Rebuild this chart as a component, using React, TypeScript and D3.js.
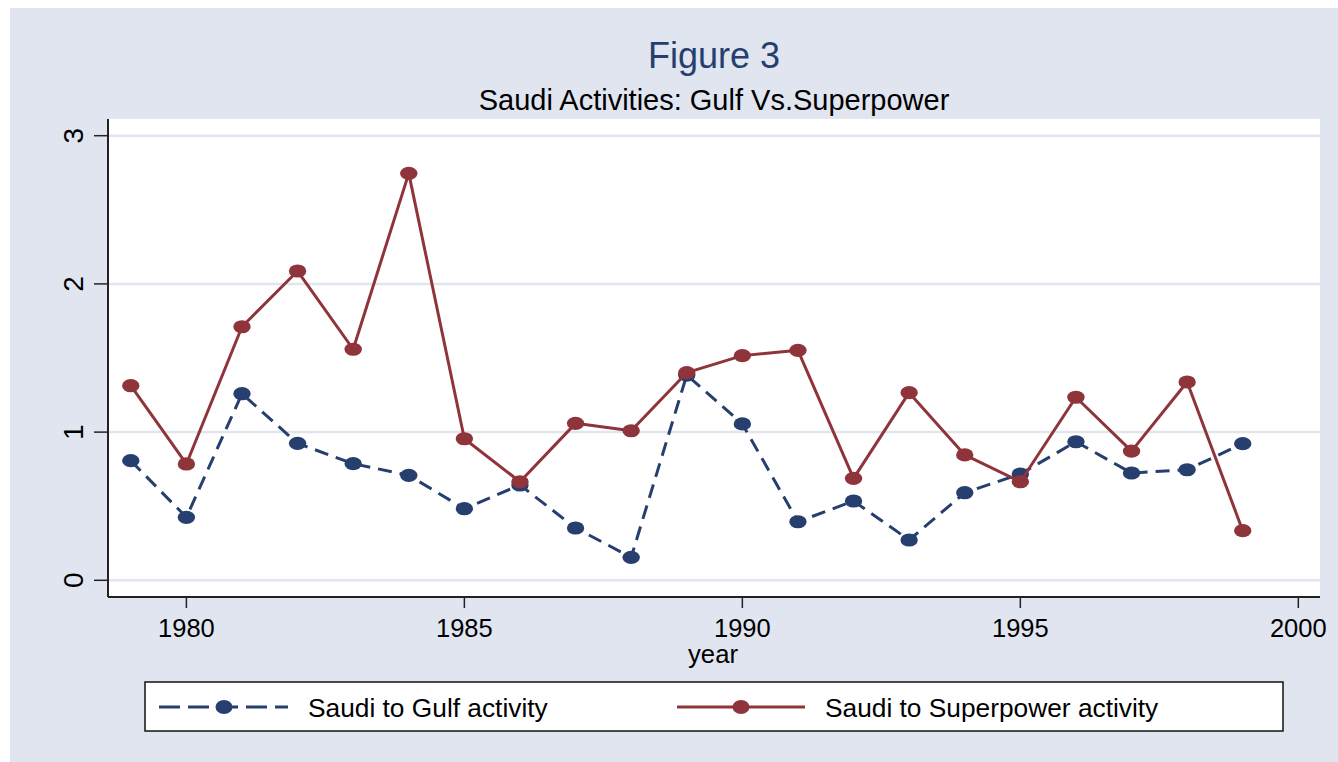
import React from "react";
import * as d3 from "d3";

// data
const years = [
  1979, 1980, 1981, 1982, 1983, 1984, 1985, 1986, 1987, 1988, 1989, 1990,
  1991, 1992, 1993, 1994, 1995, 1996, 1997, 1998, 1999,
];
const gulfActivity = [
  0.807, 0.425, 1.259, 0.924, 0.787, 0.708, 0.483, 0.643, 0.353, 0.155, 1.385,
  1.055, 0.395, 0.535, 0.272, 0.591, 0.717, 0.935, 0.724, 0.746, 0.922,
];
const superpowerActivity = [
  1.313, 0.785, 1.711, 2.087, 1.559, 2.746, 0.955, 0.665, 1.059, 1.009, 1.401,
  1.516, 1.552, 0.688, 1.266, 0.846, 0.665, 1.235, 0.872, 1.338, 0.335,
];
const xTicks = [1980, 1985, 1990, 1995, 2000];
const yTicks = [0, 1, 2, 3];
const legendLabels = ["Saudi to Gulf activity", "Saudi to Superpower activity"];

const W = 1338;
const H = 762;
const BG = "#e1e5f0";
const NAVY = "#263f6f";
const MAROON = "#8f343a";
const FONT = "Arial, 'Liberation Sans', Helvetica, sans-serif";

const plot = { left: 108, right: 1320, top: 119, bottom: 597 };

export default function App() {
  const x = d3.scaleLinear().domain([1978.59, 2000.39]).range([plot.left, plot.right]);
  const y = d3.scaleLinear().domain([0, 3]).range([580.3, 135.7]);

  const line = d3
    .line<number>()
    .x((_, i) => x(years[i]))
    .y((d) => y(d));

  const series = [
    { values: gulfActivity, color: NAVY, dash: "14 8" },
    { values: superpowerActivity, color: MAROON, dash: undefined },
  ];

  // legend layout
  const legend = { x: 145, y: 682, w: 1138, h: 49 };
  const legendItems = [
    { x1: 159, x2: 288, mx: 224, tx: 308 },
    { x1: 677, x2: 805, mx: 741, tx: 825 },
  ];
  const legendY = 707;

  return (
    <div style={{ position: "absolute", left: 0, top: 0 }}>
      <svg width={W} height={H} style={{ display: "block", fontFamily: FONT }}>
        <rect x={0} y={0} width={W} height={H} fill="#ffffff" />
        <rect x={10} y={8} width={W - 10} height={H - 8} fill={BG} />

        {/* plot region */}
        <rect
          x={plot.left}
          y={plot.top}
          width={plot.right - plot.left}
          height={plot.bottom - plot.top}
          fill="#ffffff"
        />

        {/* gridlines */}
        {yTicks.map((t) => (
          <line
            key={"g" + t}
            x1={plot.left}
            x2={plot.right}
            y1={y(t)}
            y2={y(t)}
            stroke={BG}
            strokeWidth={2.5}
          />
        ))}

        {/* titles */}
        <text x={714} y={68} textAnchor="middle" fontSize={36} fill={NAVY}>
          Figure 3
        </text>
        <text x={714} y={109.5} textAnchor="middle" fontSize={29} fill="#000">
          Saudi Activities: Gulf Vs.Superpower
        </text>

        {/* y axis */}
        <line x1={plot.left} x2={plot.left} y1={plot.top} y2={plot.bottom} stroke="#222" strokeWidth={2} />
        {yTicks.map((t) => (
          <g key={"y" + t}>
            <line x1={94} x2={plot.left} y1={y(t)} y2={y(t)} stroke="#222" strokeWidth={1.5} />
            <text
              transform={`translate(83,${y(t)}) rotate(-90)`}
              textAnchor="middle"
              fontSize={28}
              fill="#000"
            >
              {t}
            </text>
          </g>
        ))}

        {/* x axis */}
        <line x1={plot.left} x2={plot.right} y1={plot.bottom} y2={plot.bottom} stroke="#222" strokeWidth={2} />
        {xTicks.map((t) => (
          <g key={"x" + t}>
            <line x1={x(t)} x2={x(t)} y1={plot.bottom} y2={608} stroke="#222" strokeWidth={1.5} />
            <text x={x(t)} y={637} textAnchor="middle" fontSize={25.5} fill="#000">
              {t}
            </text>
          </g>
        ))}
        <text x={713} y={663} textAnchor="middle" fontSize={25.7} fill="#000">
          year
        </text>

        {/* series */}
        {series.map((s, si) => (
          <g key={"s" + si}>
            <path
              d={line(s.values) || ""}
              fill="none"
              stroke={s.color}
              strokeWidth={3}
              strokeDasharray={s.dash}
              strokeLinejoin="round"
            />
            {s.values.map((v, i) => (
              <ellipse key={i} cx={x(years[i])} cy={y(v)} rx={8.7} ry={6.6} fill={s.color} />
            ))}
          </g>
        ))}

        {/* legend */}
        <rect
          x={legend.x}
          y={legend.y}
          width={legend.w}
          height={legend.h}
          fill="#ffffff"
          stroke="#111"
          strokeWidth={1.5}
        />
        {legendItems.map((it, i) => (
          <g key={"l" + i}>
            <line
              x1={it.x1}
              x2={it.x2}
              y1={legendY}
              y2={legendY}
              stroke={series[i].color}
              strokeWidth={3}
              strokeDasharray={series[i].dash ? "21 8" : undefined}
            />
            <ellipse cx={it.mx} cy={legendY} rx={8.5} ry={7} fill={series[i].color} />
            <text x={it.tx} y={legendY + 9.5} fontSize={26.3} fill="#000">
              {legendLabels[i]}
            </text>
          </g>
        ))}
      </svg>
    </div>
  );
}
